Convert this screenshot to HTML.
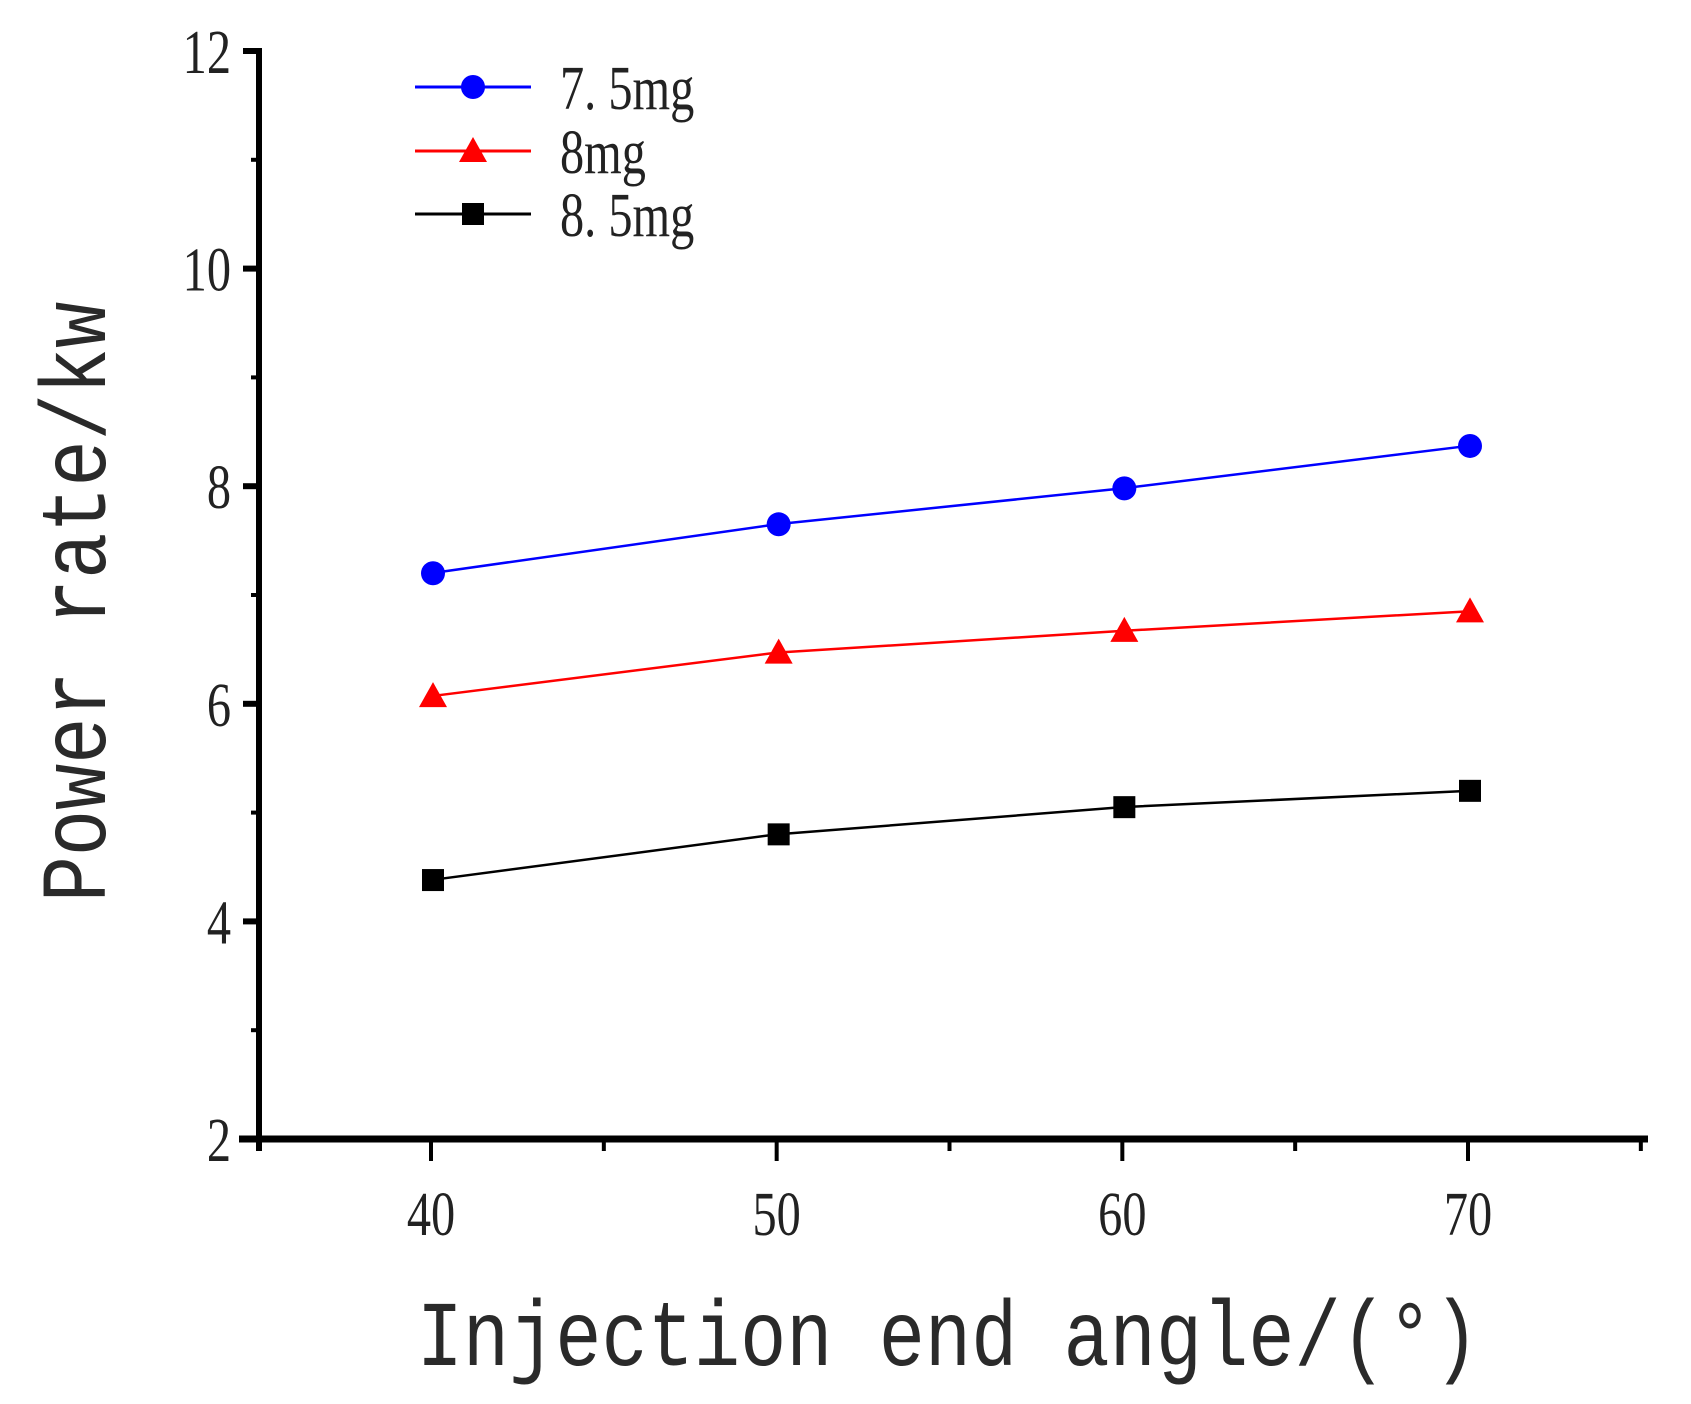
<!DOCTYPE html>
<html><head><meta charset="utf-8"><style>
html,body{margin:0;padding:0;background:#fff;}
svg{display:block;}
text{font-family:"Liberation Serif",serif;fill:#222;}
</style></head><body>
<svg id="chart" width="1691" height="1404" viewBox="0 0 1691 1404" xmlns="http://www.w3.org/2000/svg">
<g id="axes"></g>
<g id="series"></g>
<g id="legend"></g>
<text x="948" y="1365" text-anchor="middle" style="font-family:'Liberation Mono',monospace;font-size:77px;fill:#2a2a2a" transform="translate(0,-273) scale(1,1.2)">Injection end angle/(°)</text>
<text x="0" y="0" text-anchor="middle" style="font-family:'Liberation Mono',monospace;font-size:77px;fill:#2a2a2a" transform="translate(105,602) rotate(-90) scale(1,1.2)">Power rate/kw</text>
</svg>
<script>
const xCats = [40, 50, 60, 70];
const xTicks = [40, 50, 60, 70];
const yTicks = [2, 4, 6, 8, 10, 12];
const seriesNames = ['7. 5mg', '8mg', '8. 5mg'];
const s75 = [7.2, 7.65, 7.98, 8.37];
const s80 = [6.07, 6.47, 6.67, 6.85];
const s85 = [4.38, 4.8, 5.05, 5.2];

const NS = 'http://www.w3.org/2000/svg';
const X0 = 259, XR = 1648, Y0 = 1139, YT = 51;
const xmin = 35, xmax = 75, ymin = 2, ymax = 12;
function sx(v){ return 431 + (v - 40) * (1468 - 431) / 30; }
function sy(v){ return Y0 - (v - ymin) * (Y0 - YT) / (ymax - ymin); }
function mk(tag, attrs, parent){ const e = document.createElementNS(NS, tag); for (const k in attrs) e.setAttribute(k, attrs[k]); parent.appendChild(e); return e; }
function ctext(parent, x, y, anchor, size, str){
  const t = mk('text', {x:0, y:0, 'text-anchor':anchor, 'font-size':size, transform:`translate(${x},${y}) scale(0.78,1)`}, parent);
  t.textContent = str;
  return t;
}

const axes = document.getElementById('axes');
let e;
e = mk('line', {x1:X0, y1:YT-3, x2:X0, y2:Y0+12, stroke:'#000','stroke-width':6}, axes);


e = mk('line', {x1:X0-20, y1:Y0, x2:XR, y2:Y0, stroke:'#000','stroke-width':7}, axes);


for (let v = ymin; v <= ymax; v++) {
  const major = yTicks.includes(v);
  e = mk('line', {x1:X0 - (major ? 16 : 8), y1:sy(v), x2:X0, y2:sy(v), stroke:'#000','stroke-width':major?6:4}, axes);
  
  
}
yTicks.forEach(v => {
  e = ctext(axes, X0-28, sy(v)+22, 'end', 62, v);
  
  
});
for (let v = xmin; v <= xmax; v += 5) {
  const major = xTicks.includes(v);
  e = mk('line', {x1:sx(v), y1:Y0, x2:sx(v), y2:Y0 + (major ? 22 : 12), stroke:'#000','stroke-width':4}, axes);
  
  
}
xTicks.forEach(v => {
  e = ctext(axes, sx(v), 1235, 'middle', 62, v);
  
  
});

function marker(g, type, cx, cy, color){
  let m;
  if (type === 'circle') m = mk('circle', {cx:cx, cy:cy, r:12, fill:color}, g);
  else if (type === 'tri') m = mk('polygon', {points:`${cx},${cy-14} ${cx+14},${cy+11} ${cx-14},${cy+11}`, fill:color}, g);
  else m = mk('rect', {x:cx-11, y:cy-11, width:22, height:22, fill:color}, g);
  return m;
}
const series = document.getElementById('series');
const defs = [[s75,'#0000ff','circle','series-7-5mg'],[s80,'#ff0000','tri','series-8mg'],[s85,'#000','square','series-8-5mg']];
defs.forEach(([vals,color,type,name]) => {
  const g = mk('g', {}, series);
  
  
  const pts = vals.map((v,i) => sx(xCats[i]) + ',' + sy(v)).join(' ');
  const pl = mk('polyline', {points:pts, fill:'none', stroke:color, 'stroke-width':2.5}, g);
  
  
  vals.forEach((v,i) => {
    const m = marker(g, type, sx(xCats[i]) + 2, sy(v), color);
    
    
  });
});

const legend = document.getElementById('legend');
const legY = [87, 151, 214];
defs.forEach(([vals,color,type,name], i) => {
  const g = mk('g', {}, legend);
  
  
  mk('line', {x1:415, y1:legY[i], x2:531, y2:legY[i], stroke:color, 'stroke-width':3}, g);
  marker(g, type, 473, legY[i], color);
  ctext(g, 560, legY[i]+22, 'start', 62, seriesNames[i]);
});
</script>
</body></html>
